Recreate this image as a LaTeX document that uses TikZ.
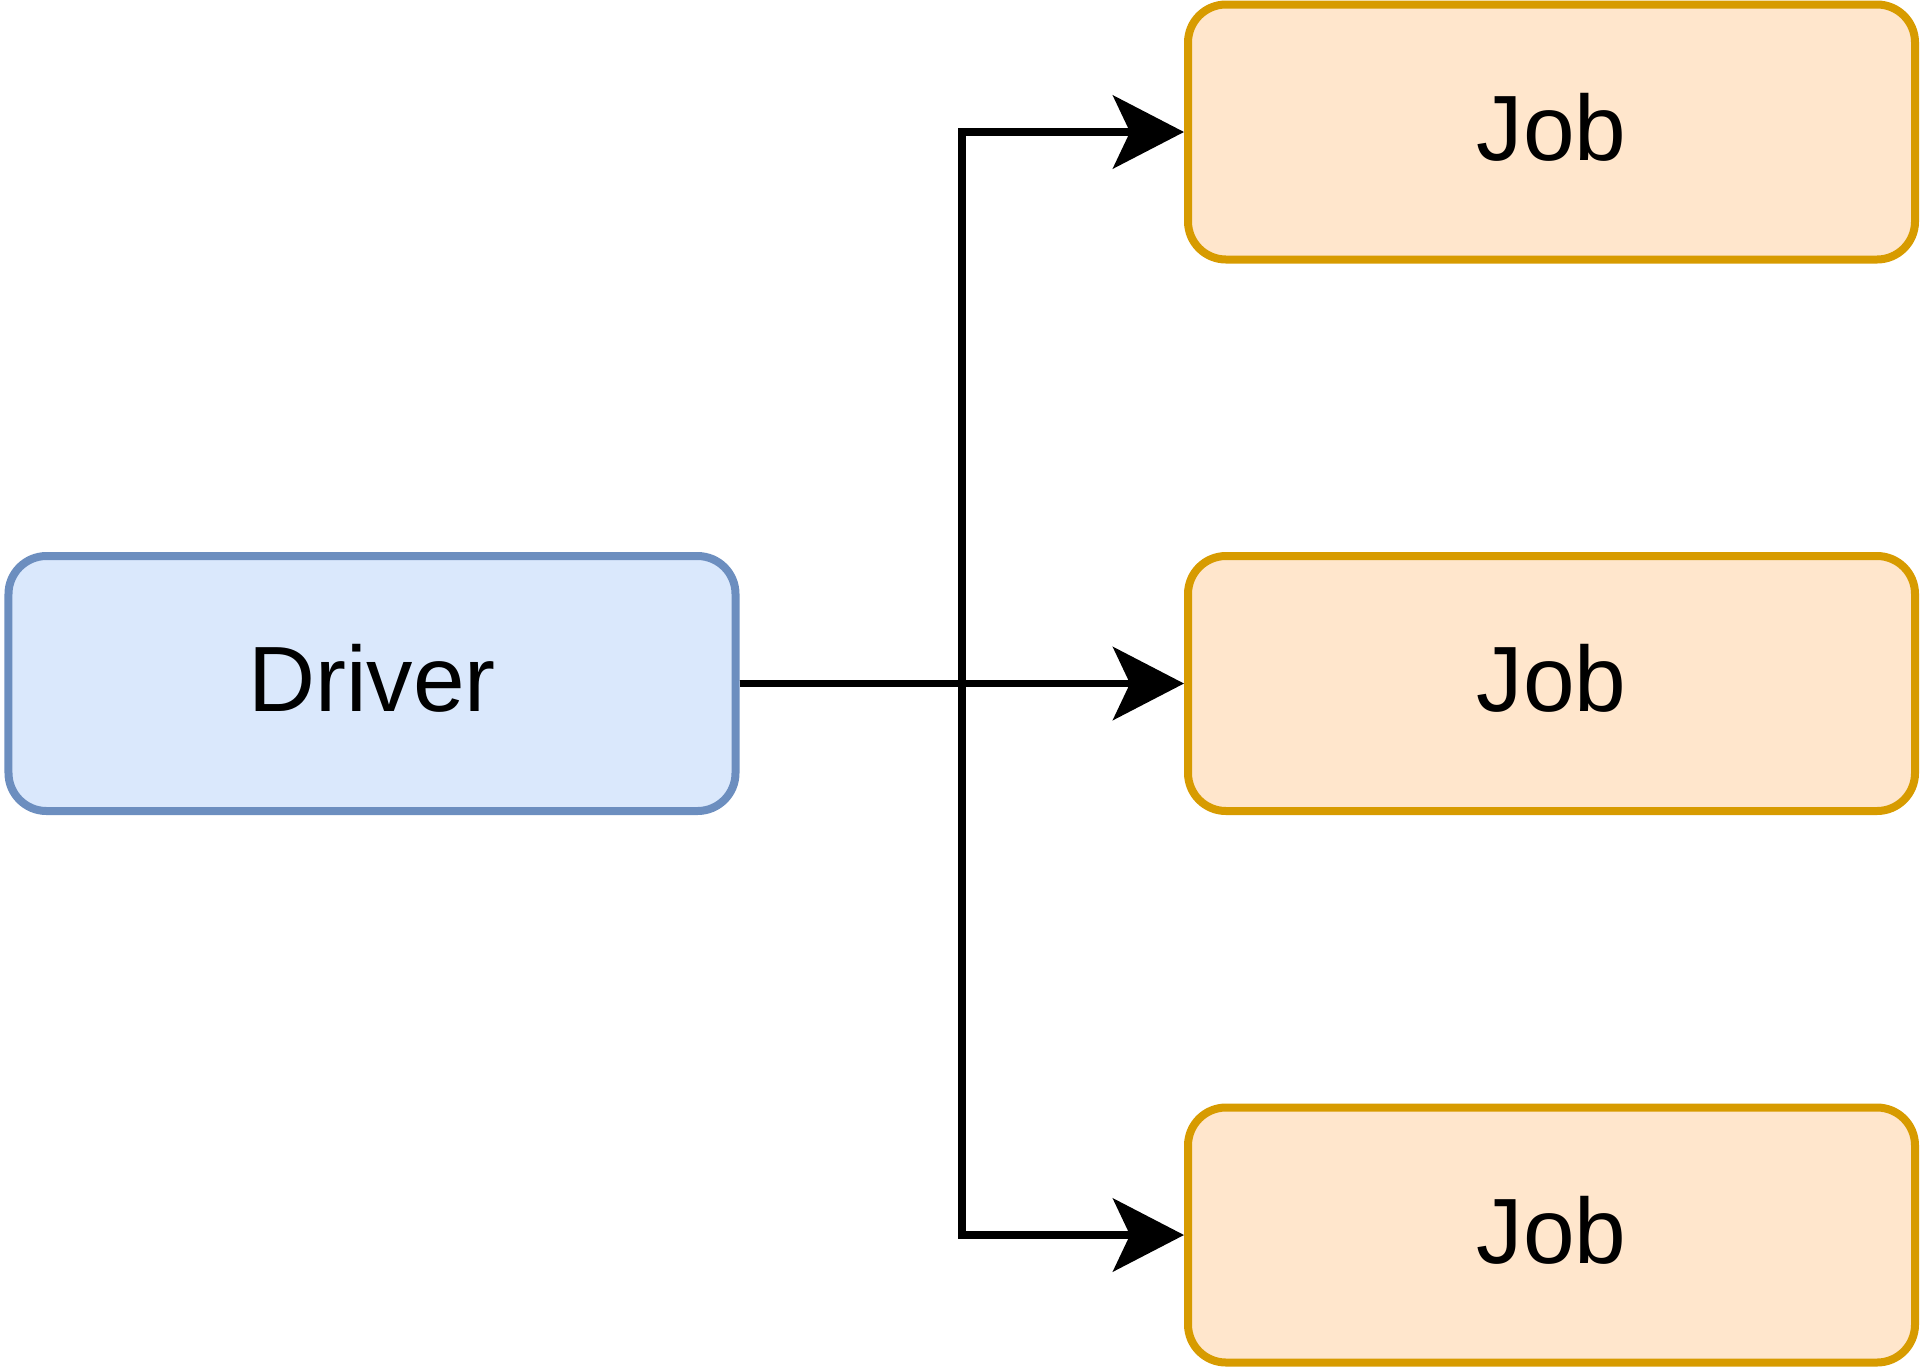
\documentclass[tikz,border=0pt]{standalone}
\usepackage{fontspec}
\setmainfont{Liberation Sans}
\usetikzlibrary{arrows.meta}
\definecolor{drvfill}{HTML}{DAE8FC}
\definecolor{drvline}{HTML}{6C8EBF}
\definecolor{jobfill}{HTML}{FFE6CC}
\definecolor{jobline}{HTML}{D79B00}
\tikzset{
	box/.style={rectangle,rounded corners=0.38cm,line width=0.08cm,minimum width=7.27cm,minimum height=2.55cm,inner sep=0pt,text height=0.68cm,text depth=0.12cm,font=\fontsize{26.4}{30}\selectfont},
	driverbox/.style={box,fill=drvfill,draw=drvline},
	jobbox/.style={box,fill=jobfill,draw=jobline},
	link/.style={black,line width=0.075cm,-{Stealth[length=0.71cm,width=0.73cm,inset=0.17cm]}}
}
\begin{document}
\begin{tikzpicture}
	\useasboundingbox (0,0) rectangle (19.2,-13.68);
	\node[driverbox] (driver) at (3.72,-6.835) {Driver};
	\node[jobbox] (job1) at (15.515,-1.32) {Job};
	\node[jobbox] (job2) at (15.515,-6.835) {Job};
	\node[jobbox] (job3) at (15.515,-12.35) {Job};
	\coordinate (bus) at (9.62,-6.835);
	\draw[link] (driver.east) -- (job2.west);
	\draw[link] (driver.east) -- (bus) |- (job1.west);
	\draw[link] (driver.east) -- (bus) |- (job3.west);
\end{tikzpicture}
\end{document}
